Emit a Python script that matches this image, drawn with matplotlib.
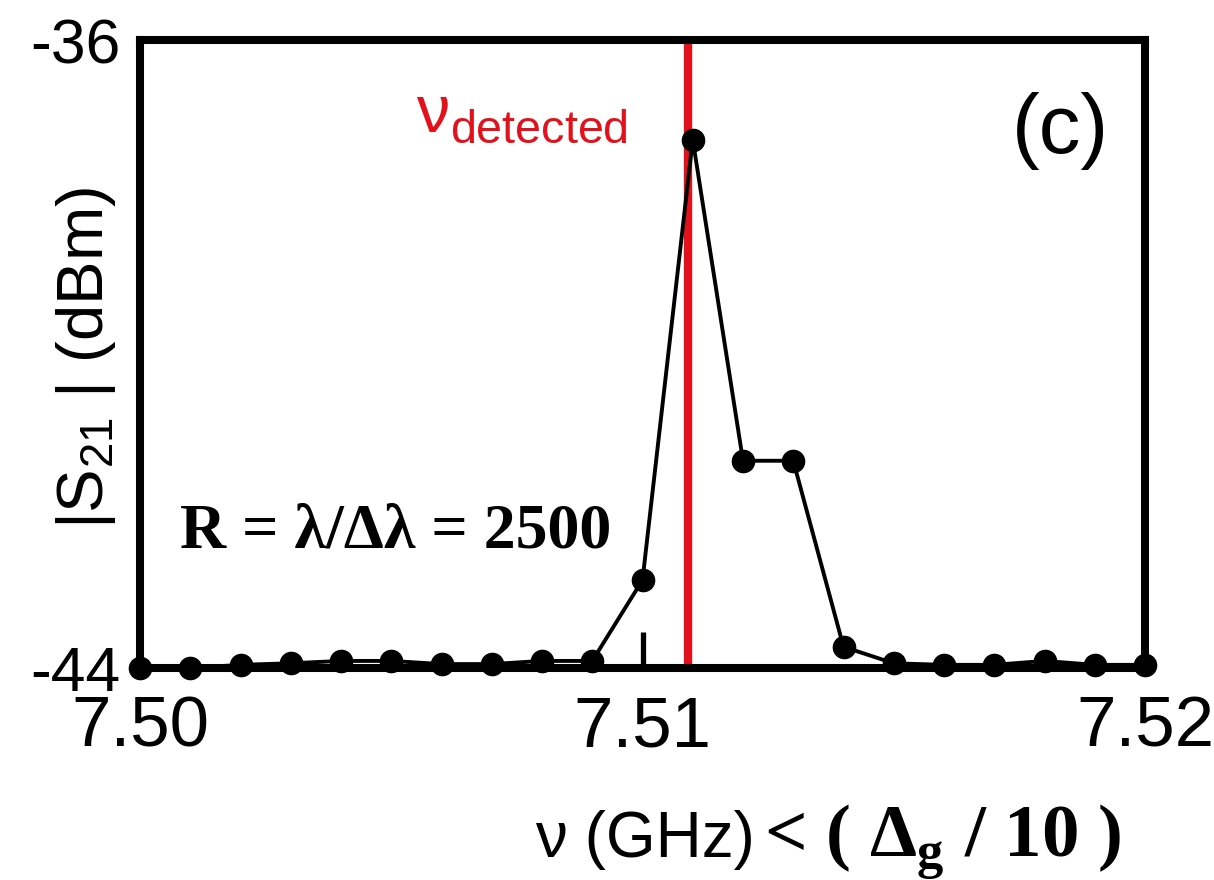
import matplotlib
matplotlib.use("Agg")
import matplotlib.pyplot as plt

plt.rcParams['font.family'] = ['Liberation Sans', 'DejaVu Sans']
plt.rcParams['mathtext.fontset'] = 'custom'
plt.rcParams['mathtext.rm'] = 'Liberation Sans'
plt.rcParams['mathtext.bf'] = 'Liberation Serif:bold'

# Data
freq_ghz = [7.500, 7.501, 7.502, 7.503, 7.504, 7.505, 7.506, 7.507, 7.508, 7.509,
            7.510, 7.511, 7.512, 7.513, 7.514, 7.515, 7.516, 7.517, 7.518, 7.519, 7.520]
s21_dbm = [-44.0, -44.0, -43.96, -43.94, -43.91, -43.91, -43.95, -43.95, -43.91, -43.91,
           -42.88, -37.27, -41.36, -41.36, -43.73, -43.94, -43.96, -43.96, -43.91, -43.96, -43.96]
nu_detected = 7.5109
xticks = [7.50, 7.51, 7.52]
xtick_labels = ['7.50', '7.51', '7.52']
yticks = [-44, -36]
ytick_labels = ['-44', '-36']

fig = plt.figure(figsize=(12.14, 8.8), dpi=100)
ax = fig.add_axes([140/1214, 1-668/880, 1005/1214, 628/880])

ax.plot(freq_ghz, s21_dbm, color='black', lw=2.8, marker='o', ms=16,
        clip_on=False, zorder=3)
ax.axvline(nu_detected, ymin=0.008, ymax=1, color='#e3111b', lw=6, zorder=2)

ax.set_xlim(7.50, 7.52)
ax.set_ylim(-44, -36)
ax.set_xticks(xticks)
ax.set_xticklabels(xtick_labels, fontsize=51)
ax.set_yticks(yticks)
ax.set_yticklabels(ytick_labels, fontsize=45)
ax.tick_params(axis='x', direction='in', length=26, width=3.8, pad=20)
ax.tick_params(axis='y', direction='in', length=0, pad=14)

for s in ax.spines.values():
    s.set_linewidth(5.8)
    s.set_color('black')

# ylabel
fig.text(86/1214, 1-358/880, r'|S$_{21}$ | (dBm)', rotation=90,
         ha='center', va='center', fontsize=47)

# annotations
ax.text((628-140)/1005, (668-132)/628, r'ν$_{\mathrm{detected}}$', color='#e3111b',
        ha='right', va='baseline', fontsize=48, transform=ax.transAxes)
ax.text((1060-140)/1005, (668-131)/628, '(c)', ha='center', va='center',
        fontsize=60, transform=ax.transAxes)
ax.text((180-140)/1005, (668-548)/628, 'R = λ/Δλ = 2500', ha='left', va='baseline',
        fontsize=46, fontweight='bold', family=['Liberation Serif', 'DejaVu Serif'],
        transform=ax.transAxes)

# xlabel
fig.text(755/1214, 1-857/880, 'ν (GHz)', ha='right', va='baseline', fontsize=46)
fig.text(764/1214, 1-857/880, r'< ( Δ$_{\mathbf{g}}$ / 10 )', ha='left', va='baseline',
         fontsize=54, fontweight='bold', family=['Liberation Serif', 'DejaVu Serif'])

fig.savefig('out.png', dpi=100)
